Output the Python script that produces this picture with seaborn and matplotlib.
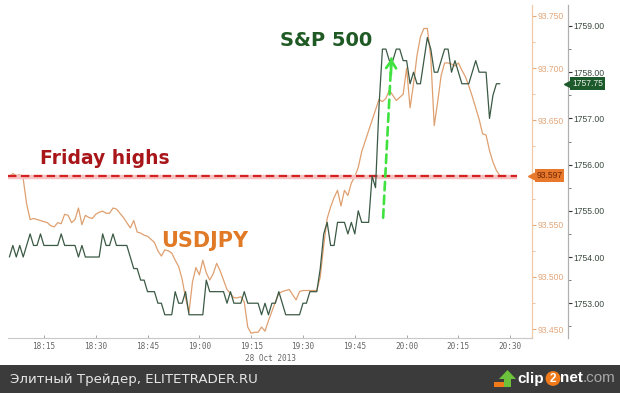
import matplotlib
matplotlib.use("Agg")
import matplotlib.pyplot as plt
import matplotlib.transforms as mtransforms
from matplotlib.ticker import AutoMinorLocator, FixedLocator
from matplotlib.patches import Rectangle, Polygon
import seaborn as sns

# ---------------- data ----------------
# minutes after 18:00 on 28 Oct 2013 (one point per minute)
minutes = list(range(5, 148))

usdjpy = [
    93.596, 93.599, 93.597, 93.598, 93.594, 93.570, 93.555, 93.556, 93.555, 93.554,
    93.553, 93.552, 93.549, 93.548, 93.552, 93.551, 93.560, 93.559, 93.552, 93.555,
    93.566, 93.550, 93.559, 93.557, 93.556, 93.560, 93.562, 93.563, 93.561, 93.561,
    93.566, 93.565, 93.561, 93.557, 93.552, 93.547, 93.554, 93.543, 93.542, 93.540,
    93.539, 93.536, 93.533, 93.525, 93.520, 93.526, 93.525, 93.523, 93.516, 93.510,
    93.498, 93.480, 93.466, 93.495, 93.509, 93.502, 93.516, 93.504, 93.497, 93.503,
    93.513, 93.506, 93.497, 93.488, 93.484, 93.480, 93.480, 93.481, 93.476, 93.452,
    93.446, 93.447, 93.447, 93.452, 93.448, 93.458, 93.467, 93.476, 93.484, 93.486,
    93.487, 93.488, 93.483, 93.478, 93.486, 93.487, 93.487, 93.487, 93.487, 93.487,
    93.500, 93.530, 93.556, 93.567, 93.576, 93.583, 93.568, 93.583, 93.578, 93.590,
    93.596, 93.605, 93.620, 93.630, 93.640, 93.650, 93.660, 93.670, 93.668, 93.671,
    93.679, 93.674, 93.669, 93.672, 93.675, 93.700, 93.662, 93.685, 93.712, 93.730,
    93.738, 93.738, 93.710, 93.645, 93.668, 93.693, 93.705, 93.705, 93.704, 93.702,
    93.705, 93.698, 93.692, 93.683, 93.673, 93.662, 93.651, 93.637, 93.636, 93.621,
    93.610, 93.602, 93.597,
]

spx = [
    1754.00, 1754.25, 1754.00, 1754.25, 1754.00, 1754.25, 1754.50, 1754.25, 1754.25, 1754.50,
    1754.25, 1754.25, 1754.25, 1754.25, 1754.25, 1754.50, 1754.25, 1754.25, 1754.25, 1754.25,
    1754.00, 1754.25, 1754.00, 1754.00, 1754.00, 1754.00, 1754.00, 1754.50, 1754.25, 1754.25,
    1754.50, 1754.25, 1754.25, 1754.25, 1754.25, 1754.00, 1753.75, 1753.75, 1753.50, 1753.50,
    1753.25, 1753.25, 1753.25, 1753.00, 1753.00, 1752.75, 1752.75, 1752.75, 1753.25, 1753.00,
    1753.00, 1753.25, 1752.75, 1752.75, 1752.75, 1752.75, 1752.75, 1753.50, 1753.25, 1753.25,
    1753.25, 1753.25, 1753.25, 1753.00, 1753.25, 1753.00, 1753.00, 1753.00, 1753.25, 1753.00,
    1753.00, 1753.00, 1753.00, 1752.75, 1753.00, 1752.75, 1753.00, 1753.00, 1753.25, 1753.00,
    1752.75, 1752.75, 1752.75, 1752.75, 1752.75, 1753.00, 1753.00, 1753.25, 1753.25, 1753.25,
    1753.75, 1754.50, 1754.75, 1754.25, 1754.25, 1754.75, 1754.75, 1754.75, 1754.50, 1754.75,
    1754.50, 1755.00, 1754.75, 1754.75, 1754.75, 1755.75, 1755.50, 1757.25, 1758.50, 1758.50,
    1758.25, 1758.25, 1758.50, 1758.50, 1758.25, 1758.25, 1757.75, 1758.00, 1757.75, 1757.75,
    1758.25, 1758.75, 1758.50, 1758.00, 1758.00, 1758.25, 1758.50, 1758.50, 1758.00, 1758.25,
    1758.00, 1757.75, 1757.75, 1757.75, 1758.00, 1758.25, 1758.00, 1758.00, 1758.00, 1757.00,
    1757.50, 1757.75, 1757.75,
]

x_tick_minutes = [15, 30, 45, 60, 75, 90, 105, 120, 135, 150]
x_tick_labels = ["18:15", "18:30", "18:45", "19:00", "19:15",
                 "19:30", "19:45", "20:00", "20:15", "20:30"]
date_label = "28 Oct 2013"
jpy_ticks = [93.450, 93.500, 93.550, 93.600, 93.650, 93.700, 93.750]
jpy_tick_labels = ["93.450", "93.500", "93.550", "", "93.650", "93.700", "93.750"]
spx_ticks = [1753.0, 1754.0, 1755.0, 1756.0, 1757.0, 1758.0, 1759.0]
friday_high = 93.597
spx_last = 1757.75
arrow_start = (113.2, 1754.85)
arrow_end = (115.6, 1758.30)

# ---------------- style ----------------
sns.set_theme(style="white")
plt.rcParams["font.family"] = ["DejaVu Sans"]

ORANGE_LINE = "#dfa070"
GREEN_LINE = "#3b5a45"

fig = plt.figure(figsize=(6.2, 3.93), dpi=100)
fig.patch.set_facecolor("white")

W, H = 620, 393
ax = fig.add_axes([8 / W, 55 / H, 524 / W, 333 / H])
ax2 = ax.twinx()

sns.lineplot(x=minutes, y=usdjpy, ax=ax, color=ORANGE_LINE, linewidth=0.9)
sns.lineplot(x=minutes, y=spx, ax=ax2, color=GREEN_LINE, linewidth=0.9)

ax.set_xlim(4.6, 156.3)
ax.set_ylim(93.4415, 93.7605)
ax2.set_ylim(1752.247, 1759.4545)
for a in (ax, ax2):
    a.set_xlabel("")
    a.set_ylabel("")
    a.grid(False)
    a.set_facecolor("none")
ax.set_facecolor("white")

# spines
ax.spines["left"].set_visible(False)
ax.spines["top"].set_visible(False)
ax.spines["bottom"].set_color("#c8c8c8")
ax.spines["bottom"].set_linewidth(0.8)
ax.spines["right"].set_color("#f0c9a6")
ax.spines["right"].set_linewidth(0.9)
for s in ("left", "top", "bottom"):
    ax2.spines[s].set_visible(False)
ax2.spines["right"].set_position(("outward", 26))
ax2.spines["right"].set_color("#b0b0b0")
ax2.spines["right"].set_linewidth(0.9)

# x axis
ax.set_xticks(x_tick_minutes)
ax.set_xticklabels(x_tick_labels)
ax.tick_params(axis="x", direction="in", length=2, width=0.6, color="#999999",
               labelsize=5.6, labelcolor="#666666", pad=3, bottom=True)
for lab in ax.get_xticklabels():
    lab.set_fontfamily("DejaVu Sans Mono")
ax.text((245 - 8) / 524, -0.048, date_label, transform=ax.transAxes,
        ha="left", va="top", fontsize=5.6, color="#666666",
        family="DejaVu Sans Mono")

# orange (USDJPY) axis
ax.yaxis.tick_right()
ax.yaxis.set_major_locator(FixedLocator(jpy_ticks))
ax.set_yticklabels(jpy_tick_labels)
ax.yaxis.set_minor_locator(AutoMinorLocator(2))
ax.tick_params(axis="y", which="major", direction="out", length=3, width=0.8,
               color="#e9a878", labelsize=6.2, labelcolor="#e2a77b", pad=1,
               left=False, right=True)
ax.tick_params(axis="y", which="minor", direction="out", length=2, width=0.6,
               color="#e9b890", left=False, right=True)
for lab in ax.get_yticklabels():
    lab.set_fontfamily("Liberation Sans")

# green (S&P) axis
ax2.yaxis.set_major_locator(FixedLocator(spx_ticks))
ax2.set_yticklabels([f"{v:.2f}" for v in spx_ticks])
ax2.yaxis.set_minor_locator(AutoMinorLocator(2))
ax2.tick_params(axis="y", which="major", direction="out", length=3, width=0.8,
                color="#333333", labelsize=6.2, labelcolor="#3a4a3e", pad=1)
ax2.tick_params(axis="y", which="minor", direction="out", length=2, width=0.6,
                color="#666666")
for lab in ax2.get_yticklabels():
    lab.set_fontfamily("Liberation Sans")

# Friday highs dashed line with pink glow
shadow_tr = ax.transData + mtransforms.ScaledTranslation(0, -1.8 / 100, fig.dpi_scale_trans)
ax.plot([4.6, 152.0], [friday_high, friday_high], color="#f6c2c2", lw=3.2,
        solid_capstyle="butt", transform=shadow_tr, zorder=3)
ax.plot([4.6, 152.0], [friday_high, friday_high], color="#d42222", lw=1.6,
        dashes=(3.8, 2.0), zorder=4)

# green dashed arrow
ax2.annotate("", xy=arrow_end, xytext=arrow_start,
             arrowprops=dict(arrowstyle="-", color="#3fe23f", lw=1.9,
                             linestyle=(0, (3.2, 2.0)), shrinkA=0, shrinkB=0))
ax2.annotate("", xy=arrow_end, xytext=(arrow_end[0] - 0.15, arrow_end[1] - 0.35),
             arrowprops=dict(arrowstyle="->,head_length=0.45,head_width=0.3",
                             color="#3fe23f", lw=1.9, shrinkA=0, shrinkB=0))

# annotation texts
def axfrac(px, py):
    return (px - 8) / 524, (338 - py) / 333

tx, ty = axfrac(326, 40)
ax.text(tx, ty, "S&P 500", transform=ax.transAxes, ha="center", va="center",
        fontsize=14, fontweight="bold", color="#1f5a24")
tx, ty = axfrac(105, 158)
ax.text(tx, ty, "Friday highs", transform=ax.transAxes, ha="center", va="center",
        fontsize=13.5, fontweight="bold", color="#a8161a")
tx, ty = axfrac(205, 241)
ax.text(tx, ty, "USDJPY", transform=ax.transAxes, ha="center", va="center",
        fontsize=15, fontweight="bold", color="#e07a26")

# value badges
blend_o = mtransforms.blended_transform_factory(ax.transAxes, ax.transData)
ax.plot([1.0], [friday_high], marker="<", ms=6, color="#e8782c", transform=blend_o,
        clip_on=False, zorder=5)
ax.annotate(f"{friday_high:.3f}", xy=(1.0, friday_high), xycoords=blend_o,
            xytext=(3.2, 0), textcoords="offset points", ha="left", va="center",
            fontsize=6.2, color="#6e2604", family="Liberation Sans",
            bbox=dict(boxstyle="square,pad=0.22", fc="#e8782c", ec="none"),
            annotation_clip=False, zorder=5)

blend_g = mtransforms.blended_transform_factory(ax2.transAxes, ax2.transData)
ax2.plot([1.0], [spx_last], marker="<", ms=6, color="#1d5a2b", transform=blend_g
         + mtransforms.ScaledTranslation(26 / 72, 0, fig.dpi_scale_trans),
         clip_on=False, zorder=5)
ax2.annotate(f"{spx_last:.2f}", xy=(1.0, spx_last), xycoords=blend_g,
             xytext=(29, 0), textcoords="offset points", ha="left", va="center",
             fontsize=6.2, color="#e8f0e8", family="Liberation Sans",
             bbox=dict(boxstyle="square,pad=0.22", fc="#1d5a2b", ec="none"),
             annotation_clip=False, zorder=5)

# footer band
fig.add_artist(Rectangle((0, 0), 1, 28 / H, transform=fig.transFigure,
                         fc="#3b3b3b", ec="none", zorder=0))
fig.text(10 / W, 14 / H, "Элитный Трейдер, ELITETRADER.RU", ha="left", va="center",
         fontsize=9.6, color="#e6e6e6")

# clip2net logo
def fp(px, py):
    return (px / W, (H - py) / H)

fig.add_artist(Rectangle(fp(494, 387), 12 / W, 5 / H, transform=fig.transFigure,
                         fc="#f07a1a", ec="none"))
fig.add_artist(Polygon([fp(504, 387), fp(504, 379), fp(499, 379), fp(507.5, 370),
                        fp(516, 379), fp(511, 379), fp(511, 387)],
                       closed=True, transform=fig.transFigure, fc="#6cc23a", ec="none"))
fig.text(517 / W, 14.5 / H, "clip", ha="left", va="center", fontsize=11,
         fontweight="bold", color="white", family="Liberation Sans")
fig.text(553 / W, 14.5 / H, "2", ha="center", va="center", fontsize=8.5,
         fontweight="bold", color="white", family="Liberation Sans",
         bbox=dict(boxstyle="circle,pad=0.12", fc="#f07a1a", ec="none"))
fig.text(560 / W, 14.5 / H, "net", ha="left", va="center", fontsize=11,
         fontweight="bold", color="white", family="Liberation Sans")
fig.text(583 / W, 14.5 / H, ".com", ha="left", va="center", fontsize=11,
         color="#a8a8a8", family="Liberation Sans")

fig.savefig("out.png", dpi=100)
